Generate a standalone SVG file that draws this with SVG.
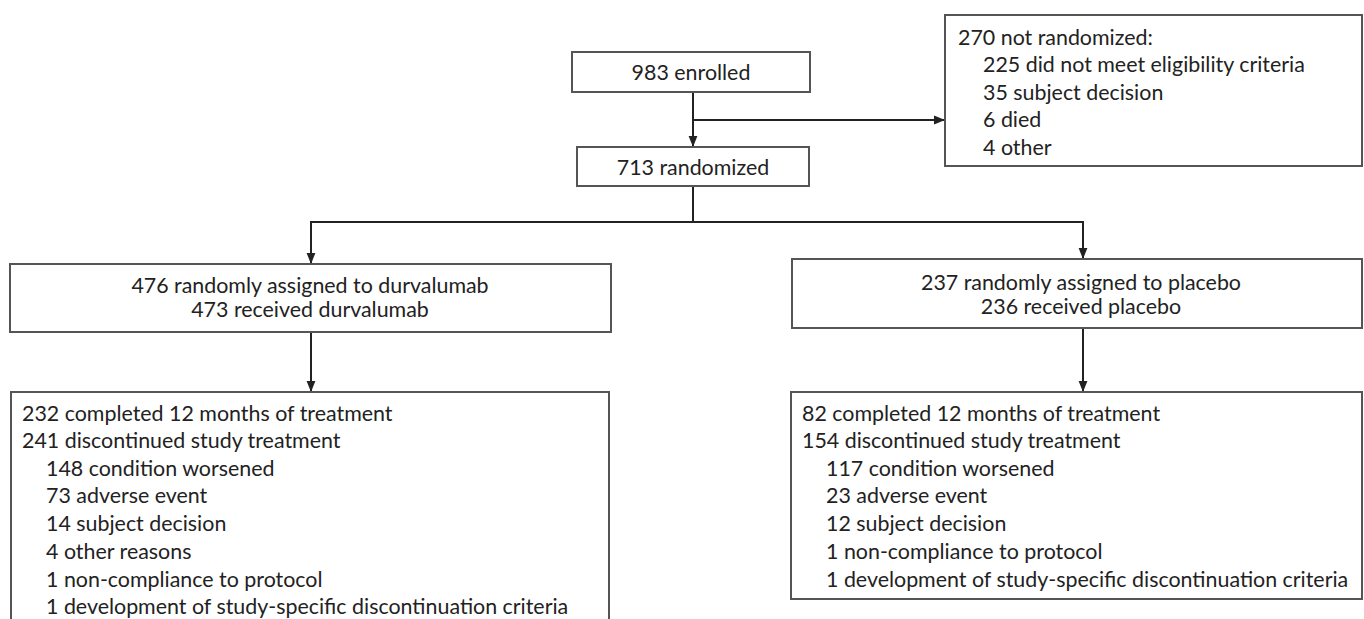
<svg xmlns="http://www.w3.org/2000/svg" width="1364" height="619" viewBox="0 0 1364 619">
<defs>
<marker id="ah" viewBox="0 0 10 10" refX="10" refY="5" markerWidth="11" markerHeight="11" markerUnits="userSpaceOnUse" orient="auto">
<path d="M0,1 L10,5 L0,9 Z" fill="#222"/>
</marker>
<style>
.box{fill:#fff;stroke:#555;stroke-width:2}
.t{font-family:Lato,"Liberation Sans",sans-serif;font-size:21.4px;fill:#222}
.c{text-anchor:middle}
.ln{fill:none;stroke:#222;stroke-width:2}
</style>
</defs>
<rect width="1364" height="619" fill="#fff"/>
<g id="connectors">
<line class="ln" x1="693" y1="92" x2="693" y2="147" marker-end="url(#ah)"/>
<line class="ln" x1="693" y1="120" x2="945" y2="120" marker-end="url(#ah)"/>
<polyline class="ln" points="693,186 693,222"/>
<line class="ln" x1="310" y1="222" x2="1084" y2="222"/>
<line class="ln" x1="311" y1="221" x2="311" y2="264" marker-end="url(#ah)"/>
<line class="ln" x1="1083" y1="221" x2="1083" y2="259" marker-end="url(#ah)"/>
<line class="ln" x1="311" y1="332" x2="311" y2="392" marker-end="url(#ah)"/>
<line class="ln" x1="1083" y1="328" x2="1083" y2="392" marker-end="url(#ah)"/>
</g>
<g id="enrolled">
<rect class="box" x="572" y="52" width="238" height="40"/>
<text class="t c" x="691" y="79.5">983 enrolled</text>
</g>
<g id="not-randomized">
<rect class="box" x="945" y="15" width="417" height="151"/>
<text class="t" x="958" y="44.5">270 not randomized:</text>
<text class="t" x="983" y="72">225 did not meet eligibility criteria</text>
<text class="t" x="983" y="99.5">35 subject decision</text>
<text class="t" x="983" y="127">6 died</text>
<text class="t" x="983" y="154.5">4 other</text>
</g>
<g id="randomized">
<rect class="box" x="577" y="147" width="232" height="39"/>
<text class="t c" x="693" y="174.5">713 randomized</text>
</g>
<g id="durvalumab">
<rect class="box" x="10" y="264" width="601" height="68"/>
<text class="t c" x="310" y="292.5">476 randomly assigned to durvalumab</text>
<text class="t c" x="310" y="316.5">473 received durvalumab</text>
</g>
<g id="placebo">
<rect class="box" x="792" y="259" width="570" height="69"/>
<text class="t c" x="1081" y="289.5">237 randomly assigned to placebo</text>
<text class="t c" x="1081" y="313.5">236 received placebo</text>
</g>
<g id="durvalumab-outcome">
<rect class="box" x="11" y="392" width="598" height="240"/>
<text class="t" x="22" y="420.5">232 completed 12 months of treatment</text>
<text class="t" x="22" y="448">241 discontinued study treatment</text>
<text class="t" x="46" y="475.5">148 condition worsened</text>
<text class="t" x="46" y="503">73 adverse event</text>
<text class="t" x="46" y="530.5">14 subject decision</text>
<text class="t" x="46" y="558.5">4 other reasons</text>
<text class="t" x="46" y="586.5">1 non-compliance to protocol</text>
<text class="t" x="46" y="613.5">1 development of study-specific discontinuation criteria</text>
</g>
<g id="placebo-outcome">
<rect class="box" x="791" y="392" width="571" height="207"/>
<text class="t" x="802" y="420.5">82 completed 12 months of treatment</text>
<text class="t" x="802" y="448">154 discontinued study treatment</text>
<text class="t" x="826" y="475.5">117 condition worsened</text>
<text class="t" x="826" y="503">23 adverse event</text>
<text class="t" x="826" y="530.5">12 subject decision</text>
<text class="t" x="826" y="558.5">1 non-compliance to protocol</text>
<text class="t" x="826" y="586.5">1 development of study-specific discontinuation criteria</text>
</g>
</svg>
